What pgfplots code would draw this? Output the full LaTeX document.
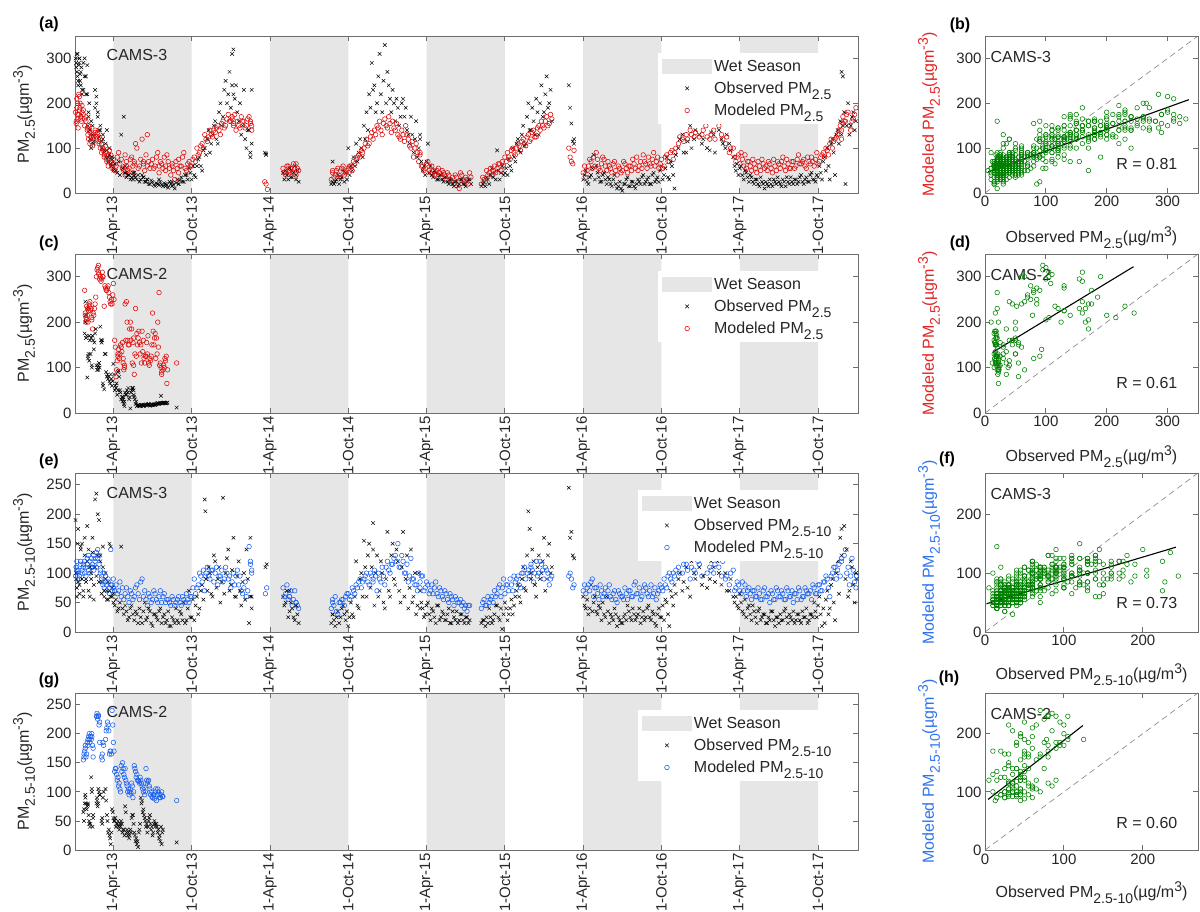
\documentclass[border=0pt]{standalone}
\usepackage{pgfplots}
\pgfplotsset{compat=1.18}
\usepackage{pgfplotstable}
\usepackage{fontspec}
\setmainfont{Liberation Sans}

\definecolor{wet}{RGB}{230,230,230}
\definecolor{axgray}{RGB}{110,110,110}
\definecolor{txt}{RGB}{38,38,38}
\definecolor{mred}{RGB}{222,10,10}
\definecolor{mblue}{RGB}{25,95,240}
\definecolor{mgreen}{RGB}{0,128,0}
\definecolor{lblred}{RGB}{228,35,35}
\definecolor{lblblue}{RGB}{45,115,240}

% ---- PM2.5, CAMS-3 : t (months since 1 Jan 2013), observed, modeled; o2/m2 = day after (t+0.1)
\pgfplotstableread{
t obs mod o2 m2
0.05 320 170 290 155
0.1 300 180 270 190
0.15 280 160 310 175
0.2 310 210 250 165
0.25 260 200 285 220
0.3 240 145 300 185
0.35 290 175 265 200
0.4 300 215 240 170
0.45 250 190 280 160
0.5 270 165 230 180
0.6 220 195 290 175
0.7 230 185 260 165
0.8 300 150 220 170
0.9 260 160 285 145
1.0 220 140 170 150
1.05 150 130 200 140
1.1 180 120 140 135
1.2 120 110 160 125
1.3 100 115 150 130
1.4 130 105 115 120
1.5 110 125 190 135
1.6 230 140 215 125
1.7 200 120 180 135
1.8 170 130 140 115
1.9 125 110 150 120
2.0 140 100 115 110
2.1 100 90 130 100
2.2 120 95 95 85
2.3 90 80 110 90
2.4 80 105 95 75
2.5 140 70 80 85
2.6 70 60 100 95
2.7 85 75 65 70
2.8 60 85 80 60
2.9 75 55 50 75
3.0 55 65 65 50
3.2 50 60 45 80
3.4 70 90 40 65
3.6 130 75 55 55
3.8 170 50 45 85
3.9 60 40 35 60
4.0 45 70 40 50
4.2 40 55 30 75
4.4 35 80 45 60
4.5 30 45 38 70
4.6 45 65 35 110
4.8 30 100 40 55
5.0 25 60 30 75
5.2 40 120 35 65
5.3 35 70 25 50
5.5 25 85 30 60
5.6 30 130 20 70
5.8 20 55 28 65
6.0 25 75 18 55
6.2 15 60 22 80
6.4 20 90 18 60
6.5 30 45 25 70
6.7 18 65 15 55
6.9 22 80 20 60
7.0 15 50 18 85
7.2 12 70 25 55
7.4 20 40 15 65
7.5 25 60 18 50
7.7 10 30 22 70
7.9 30 55 20 45
8.0 20 75 28 60
8.2 35 60 25 80
8.4 25 90 40 55
8.6 40 50 30 65
8.8 55 70 45 60
9.0 30 60 60 75
9.2 40 80 35 70
9.4 60 100 75 85
9.6 80 90 60 105
9.8 50 110 95 100
10.0 100 130 85 120
10.2 120 115 140 125
10.4 90 140 110 130
10.6 130 125 150 140
10.8 160 135 120 145
11.0 110 150 180 140
11.2 200 130 150 155
11.4 170 160 230 145
11.6 250 150 200 165
11.8 220 175 270 160
12.0 190 160 240 170
12.1 310 165 220 150
12.2 320 155 210 175
12.4 240 140 180 160
12.6 160 150 200 145
12.8 130 170 150 160
13.0 230 160 120 145
13.2 100 150 140 165
13.4 140 170 90 160
13.5 80 155 110 140
13.6 230 150 nan nan
14.6 90 25 88 nan
14.7 85 20 nan nan
14.8 nan 8 nan nan
16.0 45 55 30 45
16.2 50 40 40 60
16.4 30 60 55 45
16.5 55 50 35 55
16.7 35 45 45 65
16.9 60 55 30 40
17.0 40 65 50 55
17.2 25 50 nan nan
19.7 20 30 25 45
19.8 70 50 20 35
20.0 25 40 30 50
20.2 40 55 20 40
20.4 30 35 35 55
20.6 50 60 25 40
20.8 45 45 30 50
21.0 100 55 40 60
21.2 60 60 50 50
21.4 80 70 60 65
21.6 110 75 70 80
21.8 90 85 120 80
22.0 100 95 80 90
22.2 150 100 120 110
22.4 180 120 140 105
22.6 220 110 190 125
22.8 290 135 230 120
23.0 240 140 180 130
23.2 200 150 260 145
23.4 310 160 220 140
23.6 180 130 250 155
23.8 330 165 200 150
24.0 270 145 240 170
24.2 210 155 180 135
24.4 230 160 200 145
24.6 160 140 210 155
24.8 190 130 150 125
25.0 170 120 200 140
25.2 210 130 170 115
25.4 190 150 140 130
25.6 130 120 110 105
25.8 170 100 130 115
26.0 90 80 120 100
26.2 160 110 80 90
26.4 100 70 130 85
26.5 120 90 70 60
26.7 50 60 60 50
26.9 40 55 70 65
27.1 110 70 45 50
27.3 60 45 40 60
27.5 35 50 50 40
27.7 45 40 30 50
27.9 30 55 40 45
28.1 40 35 30 50
28.3 25 45 35 40
28.5 35 30 25 45
28.7 20 40 30 30
28.9 30 25 20 35
29.1 15 20 25 40
29.3 25 35 15 25
29.5 20 10 30 45
29.7 30 40 20 30
29.9 20 25 15 35
30.1 25 30 30 20
30.3 30 45 20 35
31.2 15 20 20 35
31.4 25 30 15 25
31.6 35 50 30 40
31.8 20 45 40 55
32.0 55 40 35 50
32.2 45 60 30 45
32.4 95 55 50 65
32.6 30 65 45 50
32.8 60 70 40 60
33.0 45 80 55 70
33.2 40 90 75 80
33.4 60 75 50 95
33.6 100 100 80 90
33.8 70 85 110 100
34.0 120 110 95 105
34.2 90 95 130 115
34.4 150 120 105 110
34.6 110 105 170 125
34.8 200 130 140 115
35.0 140 120 190 135
35.2 160 140 130 125
35.4 210 125 180 145
35.6 130 150 200 140
35.8 240 160 170 150
36.0 180 145 220 160
36.2 260 170 190 150
36.4 200 155 230 175
36.6 160 165 nan nan
37.9 240 100 nan nan
38.0 190 80 nan nan
38.1 155 70 nan nan
38.2 115 65 110 nan
38.3 120 95 nan nan
39.0 30 45 40 60
39.2 50 35 25 50
39.4 20 60 35 75
39.6 40 70 55 55
39.8 85 80 30 60
40.0 60 90 45 75
40.2 35 55 25 50
40.4 25 65 40 80
40.6 45 75 30 60
40.8 20 50 35 70
41.0 30 60 20 55
41.2 15 45 30 65
41.4 40 70 20 50
41.6 10 40 15 60
41.8 25 55 10 45
42.0 5 50 20 70
42.2 20 65 30 55
42.4 35 45 15 60
42.6 15 60 25 50
42.8 25 75 15 65
43.0 10 55 20 80
43.2 30 50 25 60
43.4 20 70 35 55
43.6 40 85 20 70
43.8 25 65 30 55
44.0 35 80 20 65
44.2 20 60 40 75
44.4 45 90 25 60
44.6 30 70 35 80
44.8 25 55 50 65
45.0 60 75 30 55
45.2 40 60 55 80
45.4 80 85 35 70
45.6 30 70 70 90
45.8 60 95 40 75
46.0 10 90 85 100
46.3 100 110 120 125
46.6 130 120 90 115
46.9 90 130 115 120
47.2 150 140 100 130
47.5 120 125 140 135
47.8 180 160 130 125
48.1 110 130 120 140
48.4 160 150 100 125
48.7 95 120 135 130
49.0 130 140 90 120
49.3 200 170 140 150
49.6 120 130 110 120
49.9 100 110 130 125
50.2 110 90 95 100
50.5 80 100 60 80
50.7 50 70 65 80
50.9 40 85 55 65
51.1 60 90 40 75
51.3 30 60 50 85
51.5 45 55 35 70
51.7 25 70 40 60
51.9 35 50 25 75
52.1 20 65 30 55
52.3 30 45 20 70
52.5 15 60 35 50
52.7 25 75 20 65
52.9 10 55 25 60
53.1 20 50 15 70
53.3 30 65 20 55
53.5 15 45 30 75
53.7 25 60 20 50
53.9 35 70 25 65
54.1 20 55 15 70
54.3 30 80 25 60
54.5 15 50 35 75
54.7 25 65 20 55
54.9 35 55 25 70
55.1 20 70 30 55
55.3 30 60 20 75
55.5 25 85 35 65
55.7 40 65 25 70
55.9 20 75 30 60
56.1 35 55 25 80
56.3 25 70 40 65
56.5 45 80 30 70
56.7 30 60 25 75
56.9 40 90 35 65
57.1 60 70 45 80
57.3 30 85 70 90
57.5 80 80 50 100
57.7 100 95 60 85
57.9 30 110 110 120
58.1 120 100 90 115
58.3 40 120 130 125
58.5 140 130 110 140
58.7 160 150 130 120
58.8 270 140 150 155
58.9 260 170 180 160
59.1 20 160 150 175
59.3 200 180 130 150
59.5 150 140 170 160
59.7 180 165 140 175
59.9 160 190 nan nan
}\tA

% ---- PM2.5, CAMS-2 (o2/m2 at t+0.05)
\pgfplotstableread{
t obs mod o2 m2
0.8 175 270 200 215
0.85 245 220 165 200
0.9 215 210 230 235
0.95 170 205 nan nan
1.0 78 215 120 230
1.05 125 200 nan nan
1.1 130 225 170 240
1.15 115 235 nan nan
1.2 160 245 130 225
1.3 165 230 100 205
1.35 105 210 nan nan
1.4 170 185 160 220
1.5 140 215 155 230
1.6 175 240 185 255
1.7 105 300 95 315
1.8 100 320 105 310
1.85 95 325 nan nan
1.9 110 305 100 295
2.0 190 300 160 290
2.1 155 295 nan nan
2.15 160 310 65 300
2.2 60 300 nan nan
2.3 52 235 130 280
2.4 130 275 90 270
2.5 80 270 85 275
2.6 75 280 80 265
2.7 70 255 65 245
2.8 85 240 75 250
2.9 60 240 70 260
3.0 108 285 85 250
3.1 50 160 60 145
3.2 55 80 65 95
3.3 40 115 50 130
3.35 90 125 nan nan
3.4 93 140 80 120
3.5 50 130 45 150
3.6 30 145 35 135
3.7 25 155 30 120
3.75 35 110 nan nan
3.8 20 95 25 105
3.85 15 100 nan nan
3.9 45 240 40 160
4.0 40 245 50 200
4.1 45 160 55 150
4.2 30 150 35 185
4.3 10 200 45 160
4.4 50 185 55 110
4.5 55 155 50 165
4.55 40 105 nan nan
4.6 35 85 30 130
4.7 20 230 25 125
4.8 15 175 17 150
4.9 18 165 16 180
5.0 16 155 15 130
5.1 17 150 18 110
5.2 18 180 17 135
5.3 15 160 16 120
5.4 17 110 18 125
5.5 19 125 17 155
5.6 18 130 19 170
5.7 20 110 18 105
5.8 16 120 17 115
5.9 18 125 19 150
6.0 17 220 18 180
6.1 19 150 18 165
6.2 18 175 19 120
6.3 20 165 nan nan
6.35 21 130 nan nan
6.4 22 200 20 145
6.5 20 265 21 105
6.6 22 110 nan nan
6.65 38 100 22 90
6.7 21 85 nan nan
6.8 22 95 23 105
6.9 23 100 22 120
7.0 22 115 nan nan
7.05 21 125 nan nan
7.1 22 65 23 95
7.85 12 110 nan nan
}\tC

% ---- PM2.5-10, CAMS-3 (o2/m2 at t+0.1)
\pgfplotstableread{
t obs mod o2 m2
0.05 170 100 100 110
0.1 190 95 75 105
0.15 90 110 150 90
0.2 60 120 85 100
0.3 175 105 65 95
0.4 80 90 145 120
0.5 140 115 90 105
0.6 150 100 60 115
0.7 70 110 130 100
0.8 160 120 85 110
0.9 90 95 120 125
1.0 180 115 70 105
1.1 140 130 110 120
1.2 60 100 90 110
1.3 100 125 135 115
1.4 160 110 80 130
1.5 55 105 110 125
1.6 225 120 95 110
1.7 235 135 130 125
1.8 200 140 85 130
1.9 190 115 120 105
2.0 130 100 65 95
2.1 85 90 110 85
2.2 145 80 70 100
2.3 60 75 90 85
2.4 100 95 55 80
2.5 70 70 85 90
2.6 55 85 70 75
2.7 150 65 60 80
2.8 145 140 75 70
2.9 60 80 50 75
3.0 65 90 45 70
3.2 55 80 35 65
3.4 40 70 50 85
3.6 145 60 40 75
3.8 30 55 45 65
4.0 35 75 20 60
4.2 25 50 40 70
4.4 45 65 30 55
4.6 20 60 35 75
4.8 30 80 15 65
5.0 40 55 25 85
5.2 15 90 35 60
5.4 50 70 20 55
5.6 25 45 40 65
5.8 35 60 15 50
6.0 10 55 30 70
6.2 30 65 25 55
6.4 20 50 35 60
6.6 40 70 15 50
6.8 25 60 30 65
7.0 15 50 20 55
7.2 35 55 10 50
7.4 10 45 25 60
7.6 20 55 15 45
7.8 40 50 20 55
8.0 15 60 35 50
8.2 30 45 20 60
8.4 50 55 15 50
8.6 20 65 40 55
8.8 70 50 25 60
9.0 25 60 55 75
9.2 20 90 45 65
9.4 60 75 30 80
9.6 40 100 70 95
9.8 80 85 55 105
10.0 225 70 90 100
10.05 205 95 nan nan
10.2 70 110 110 95
10.4 100 90 65 105
10.6 60 105 130 85
10.8 120 100 75 110
11.0 90 80 110 95
11.2 50 95 85 105
11.4 228 85 65 90
11.6 100 110 125 100
11.8 140 90 70 95
12.0 80 75 105 85
12.2 160 100 60 80
12.4 60 95 95 105
12.6 120 80 70 95
12.8 45 70 85 65
13.0 100 75 55 85
13.2 140 60 90 70
13.4 15 145 60 120
13.5 160 115 40 105
13.6 60 100 nan nan
14.65 110 65 nan nan
14.75 115 75 nan nan
16.0 60 75 45 60
16.2 50 65 70 80
16.4 25 55 35 60
16.5 70 60 50 70
16.7 40 45 25 55
16.9 20 70 45 50
17.0 45 50 30 45
17.2 15 40 nan nan
19.7 15 40 30 50
19.8 30 55 20 45
20.0 10 60 25 35
20.2 35 30 15 50
20.4 25 50 40 55
20.6 45 55 30 45
20.8 20 60 35 65
21.0 10 65 25 55
21.2 50 60 30 75
21.4 25 70 60 65
21.6 120 80 45 75
21.8 40 85 90 90
22.0 100 75 60 85
22.2 155 90 110 95
22.4 60 100 130 85
22.6 150 80 75 100
22.8 110 95 140 90
22.9 185 85 nan nan
23.0 45 105 100 95
23.2 130 70 60 100
23.4 70 90 120 85
23.6 100 110 50 95
23.8 40 80 90 110
24.0 170 120 70 105
24.2 60 100 130 115
24.4 150 115 90 125
24.6 80 130 140 120
24.8 120 150 70 110
25.0 50 110 110 130
25.2 170 120 60 100
25.4 90 100 130 115
25.6 40 85 75 95
25.8 140 125 50 90
26.0 60 90 100 80
26.2 30 80 45 70
26.4 100 100 40 85
26.5 70 75 50 95
26.7 40 95 25 70
26.9 30 75 45 85
27.1 50 80 30 65
27.3 20 70 40 80
27.5 35 65 25 75
27.7 15 85 45 65
27.9 45 60 20 75
28.1 25 70 35 60
28.3 30 55 20 70
28.5 20 65 30 55
28.7 40 50 15 65
28.9 15 60 35 55
29.1 25 45 20 60
29.3 35 55 15 50
29.5 20 50 30 55
29.7 30 45 20 50
29.9 15 40 25 45
30.1 25 35 15 45
30.3 20 45 nan nan
31.2 15 40 20 50
31.4 20 55 10 45
31.6 25 45 15 60
31.8 40 50 25 55
32.0 15 60 20 50
32.2 30 70 45 60
32.4 45 65 25 75
32.6 20 80 40 60
32.8 5 75 30 90
33.0 50 65 40 80
33.2 20 80 30 70
33.4 40 90 55 80
33.6 30 70 45 95
33.8 60 85 70 90
34.0 80 95 60 80
34.2 50 75 90 100
34.4 110 100 75 110
34.6 70 90 130 100
34.8 205 105 nan nan
34.9 175 95 100 115
35.0 90 110 140 105
35.2 120 85 80 100
35.4 60 120 110 95
35.6 130 100 90 120
35.8 100 115 120 105
36.0 160 90 70 110
36.2 90 105 130 100
36.4 150 80 100 90
36.6 110 95 nan nan
37.9 245 95 nan nan
38.0 160 100 nan nan
38.1 170 90 nan nan
38.2 130 75 nan nan
38.3 125 80 nan nan
39.0 60 70 45 80
39.2 40 65 55 75
39.4 30 80 40 70
39.6 80 85 35 90
39.8 50 60 60 75
40.0 35 75 30 65
40.2 45 55 40 80
40.4 20 70 50 60
40.6 30 65 25 75
40.8 60 60 35 70
41.0 15 80 30 60
41.2 25 55 20 65
41.4 40 70 30 55
41.6 10 50 25 70
41.8 20 65 15 60
42.0 15 60 25 55
42.2 30 75 20 65
42.4 45 55 35 70
42.6 25 70 20 60
42.8 40 60 30 80
43.0 20 85 25 65
43.2 30 65 40 75
43.4 15 55 25 60
43.6 35 70 20 80
43.8 25 75 40 65
44.0 45 60 25 70
44.2 20 80 35 60
44.4 30 65 15 75
44.6 10 55 30 65
44.8 40 70 25 80
45.0 25 75 45 70
45.2 20 90 55 80
45.4 50 75 30 95
45.6 10 100 70 90
45.8 60 85 45 100
46.0 80 95 65 105
46.3 90 110 100 100
46.6 70 100 85 115
46.9 110 115 75 105
47.2 60 90 120 110
47.5 100 105 90 100
47.8 130 120 110 115
48.1 80 95 95 125
48.4 140 130 75 100
48.7 90 110 120 105
49.0 110 100 85 115
49.3 120 125 100 110
49.6 80 95 130 120
49.9 100 90 70 95
50.2 70 80 90 100
50.5 60 105 50 70
50.7 60 75 45 85
50.9 40 80 65 70
51.1 50 65 35 85
51.3 30 70 55 80
51.5 25 60 40 70
51.7 45 75 30 65
51.9 20 55 45 70
52.1 35 70 25 60
52.3 15 60 35 75
52.5 40 65 20 55
52.7 25 55 30 70
52.9 30 75 15 60
53.1 15 60 25 65
53.3 20 50 35 70
53.5 35 65 20 55
53.7 10 55 25 75
53.9 25 70 15 60
54.1 30 60 20 70
54.3 20 65 35 55
54.5 40 55 25 75
54.7 15 70 30 60
54.9 25 60 20 70
55.1 35 50 15 65
55.3 20 65 30 55
55.5 30 75 20 70
55.7 15 55 35 60
55.9 25 60 25 75
56.1 40 70 15 65
56.3 20 65 30 70
56.5 30 55 25 80
56.7 50 75 35 65
56.9 25 65 45 80
57.1 60 80 30 70
57.3 10 70 40 85
57.5 15 85 55 95
57.7 70 90 30 75
57.9 40 60 80 95
58.1 90 100 50 110
58.3 20 110 100 90
58.5 120 105 65 115
58.7 160 95 130 125
58.8 175 120 nan nan
59.0 180 130 90 140
59.2 140 100 60 110
59.4 70 80 120 95
59.6 110 125 80 105
59.8 50 85 100 75
59.95 90 95 nan nan
}\tE

% ---- PM2.5-10, CAMS-2 (o2/m2 at t+0.05)
\pgfplotstableread{
t obs mod o2 m2
0.7 65 155 70 160
0.75 50 165 nan nan
0.8 80 170 90 175
0.85 95 180 nan nan
0.9 80 160 70 165
1.0 75 185 80 180
1.05 78 190 nan nan
1.1 60 195 50 190
1.15 45 200 nan nan
1.2 40 185 45 195
1.3 125 190 100 200
1.35 105 195 nan nan
1.4 40 180 60 175
1.45 55 160 nan nan
1.7 80 230 90 230
1.75 85 235 nan nan
1.8 75 225 80 232
1.85 105 230 nan nan
1.9 100 215 95 220
1.95 95 185 nan nan
2.1 50 160 55 165
2.15 45 155 nan nan
2.2 90 185 100 180
2.4 105 190 85 205
2.5 60 210 50 220
2.6 30 215 35 205
2.7 25 165 20 170
2.8 10 170 30 165
2.9 70 240 65 215
3.0 55 185 50 170
3.1 50 135 55 140
3.2 40 140 45 130
3.3 45 120 50 125
3.4 40 110 35 115
3.5 45 105 40 100
3.6 50 145 45 135
3.7 30 150 35 140
3.8 35 130 25 125
3.9 75 140 65 120
4.0 30 115 35 110
4.1 25 100 30 105
4.2 20 95 25 100
4.3 35 105 30 98
4.4 55 115 60 110
4.5 60 90 45 100
4.6 30 145 25 140
4.7 15 135 20 125
4.8 10 130 15 120
4.9 5 120 30 118
5.0 35 115 45 125
5.1 90 120 80 115
5.2 85 110 65 105
5.3 70 100 60 108
5.4 55 95 50 100
5.5 40 140 45 120
5.6 30 115 40 118
5.7 50 120 55 110
5.8 60 105 45 95
5.9 35 100 40 92
6.0 25 90 30 95
6.1 45 95 50 88
6.2 40 100 45 105
6.3 45 85 40 95
6.4 30 105 35 100
6.5 20 95 25 90
6.6 15 90 40 95
6.7 10 100 30 92
6.8 35 92 nan nan
7.85 13 85 nan nan
}\tG

\newcommand\lbl{\fontsize{16}{18}\selectfont}
\newcommand\sub[1]{\raisebox{-6pt}{\fontsize{14}{15}\selectfont #1}}
\newcommand\sups[1]{\raisebox{6pt}{\fontsize{14}{15}\selectfont #1}}
\newcommand\wetbands[1]{%
  \addplot[fill=wet, draw=none,
    legend image code/.code={\fill[wet] (0pt,-7.5pt) rectangle (50pt,7.5pt);}]
    coordinates {(3,0)(3,#1)(9,#1)(9,0)} \closedcycle;
  \addplot[fill=wet, draw=none, forget plot] coordinates {(15,0)(15,#1)(21,#1)(21,0)} \closedcycle;
  \addplot[fill=wet, draw=none, forget plot] coordinates {(27,0)(27,#1)(33,#1)(33,0)} \closedcycle;
  \addplot[fill=wet, draw=none, forget plot] coordinates {(39,0)(39,#1)(45,#1)(45,0)} \closedcycle;
  \addplot[fill=wet, draw=none, forget plot] coordinates {(51,0)(51,#1)(57,#1)(57,0)} \closedcycle;
}

\pgfplotsset{
  base/.style={scale only axis, anchor=south west,
    axis line style={axgray, line width=0.8pt},
    tick style={axgray, line width=0.8pt},
    major tick length=5pt,
    tick align=inside,
    ticklabel style={font=\fontsize{15}{17}\selectfont, text=txt},
    /pgf/number format/assume math mode=true,
    label style={font=\lbl, text=txt},
    axis on top,
  },
  mk/.style={legend image code/.code={\draw[mark repeat=2,mark phase=2,##1] plot coordinates {(0pt,0pt)(25pt,0pt)(50pt,0pt)};}},
  obsx/.style={only marks, mark=x, mark size=2.5pt, black, mark options={line width=0.5pt}, mk},
  modr/.style={only marks, mark=o, mark size=2.3pt, mred, mark options={line width=0.55pt}, mk},
  modb/.style={only marks, mark=o, mark size=2.3pt, mblue, mark options={line width=0.55pt}, mk},
  grn/.style={only marks, mark=o, mark size=2.3pt, mgreen, mark options={line width=0.55pt}},
  ts/.style={base, width=783pt, xmin=0.06, xmax=60.06, xtick={3,9,...,57},
    xticklabels={1-Apr-13,1-Oct-13,1-Apr-14,1-Oct-14,1-Apr-15,1-Oct-15,1-Apr-16,1-Oct-16,1-Apr-17,1-Oct-17},
    xticklabel style={rotate=90, anchor=east},
    ylabel style={at={(axis description cs:-0.065,0.5)}, anchor=center},
    legend cell align=left,
    legend style={anchor=north east, draw=none, fill=white, font=\lbl, text=txt,
      inner xsep=4pt, inner ysep=5pt, row sep=5pt},
  },
  sc/.style={base, width=213pt, xmin=0, ymin=0,
    ylabel style={at={(axis description cs:-0.263,0.5)}, anchor=center},
  },
}

\begin{document}
\begin{tikzpicture}

% ================= (a)
\begin{axis}[ts, at={(75pt,719pt)}, height=157pt, ymin=0, ymax=350, ytick={0,100,200,300},
  ylabel={PM\sub{2.5}(µgm\sups{-3})},
  legend style={at={(0.974,0.892)}}]
\wetbands{350}
\addplot[obsx] table[x=t,y=obs]{\tA};
\addplot[modr] table[x=t,y=mod]{\tA};
\addplot[obsx, forget plot] table[x expr={\thisrow{t}+0.1},y=o2]{\tA};
\addplot[modr, forget plot] table[x expr={\thisrow{t}+0.1},y=m2]{\tA};
\legend{Wet Season, Observed PM\sub{2.5}, Modeled PM\sub{2.5}}
\node[anchor=west, font=\lbl, text=txt] at (rel axis cs:0.036,0.879) {CAMS-3};
\end{axis}

% ================= (c)
\begin{axis}[ts, at={(75pt,499pt)}, height=159pt, ymin=0, ymax=350, ytick={0,100,200,300},
  ylabel={PM\sub{2.5}(µgm\sups{-3})},
  legend style={at={(0.974,0.893)}}]
\wetbands{350}
\addplot[obsx] table[x=t,y=obs]{\tC};
\addplot[modr] table[x=t,y=mod]{\tC};
\addplot[obsx, forget plot] table[x expr={\thisrow{t}+0.05},y=o2]{\tC};
\addplot[modr, forget plot] table[x expr={\thisrow{t}+0.05},y=m2]{\tC};
\legend{Wet Season, Observed PM\sub{2.5}, Modeled PM\sub{2.5}}
\node[anchor=west, font=\lbl, text=txt] at (rel axis cs:0.036,0.877) {CAMS-2};
\end{axis}

% ================= (e)
\begin{axis}[ts, at={(75pt,280pt)}, height=159pt, ymin=0, ymax=270, ytick={0,50,...,250},
  ylabel={PM\sub{2.5-10}(µgm\sups{-3})},
  legend style={at={(0.974,0.893)}}]
\wetbands{270}
\addplot[obsx] table[x=t,y=obs]{\tE};
\addplot[modb] table[x=t,y=mod]{\tE};
\addplot[obsx, forget plot] table[x expr={\thisrow{t}+0.1},y=o2]{\tE};
\addplot[modb, forget plot] table[x expr={\thisrow{t}+0.1},y=m2]{\tE};
\legend{Wet Season, Observed PM\sub{2.5-10}, Modeled PM\sub{2.5-10}}
\node[anchor=west, font=\lbl, text=txt] at (rel axis cs:0.036,0.877) {CAMS-3};
\end{axis}

% ================= (g)
\begin{axis}[ts, at={(75pt,62pt)}, height=157pt, ymin=0, ymax=270, ytick={0,50,...,250},
  ylabel={PM\sub{2.5-10}(µgm\sups{-3})},
  legend style={at={(0.974,0.892)}}]
\wetbands{270}
\addplot[obsx] table[x=t,y=obs]{\tG};
\addplot[modb] table[x=t,y=mod]{\tG};
\addplot[obsx, forget plot] table[x expr={\thisrow{t}+0.05},y=o2]{\tG};
\addplot[modb, forget plot] table[x expr={\thisrow{t}+0.05},y=m2]{\tG};
\legend{Wet Season, Observed PM\sub{2.5-10}, Modeled PM\sub{2.5-10}}
\node[anchor=west, font=\lbl, text=txt] at (rel axis cs:0.036,0.879) {CAMS-2};
\end{axis}

% ================= (b)
\begin{axis}[sc, at={(985pt,719pt)}, height=157pt, xmax=350, ymax=350,
  xtick={0,100,200,300}, ytick={0,100,200,300},
  xlabel={Observed PM\sub{2.5}(µg/m\sups{3})},
  xlabel style={at={(axis description cs:0.5,-0.285)}, anchor=center},
  ylabel={Modeled PM\sub{2.5}(µgm\sups{-3})}, ylabel style={text=lblred}]
\addplot[grn] table[x=obs,y=mod]{\tA};
\addplot[grn] table[x=o2,y=m2]{\tA};
\addplot[gray, line width=0.6pt, dash pattern=on 6pt off 4pt] coordinates {(0,0)(350,350)};
\addplot[black, line width=1.1pt] coordinates {(5,47)(335,208)};
\node[anchor=west, font=\lbl, text=txt] at (rel axis cs:0.01,0.866) {CAMS-3};
\node[font=\lbl, text=txt] at (rel axis cs:0.76,0.185) {R = 0.81};
\end{axis}

% ================= (d)
\begin{axis}[sc, at={(985pt,499pt)}, height=159pt, xmax=350, ymax=350,
  xtick={0,100,200,300}, ytick={0,100,200,300},
  xlabel={Observed PM\sub{2.5}(µg/m\sups{3})},
  xlabel style={at={(axis description cs:0.5,-0.275)}, anchor=center},
  ylabel={Modeled PM\sub{2.5}(µgm\sups{-3})}, ylabel style={text=lblred}]
\addplot[grn] table[x=obs,y=mod]{\tC};
\addplot[grn] table[x=o2,y=m2]{\tC};
\addplot[gray, line width=0.6pt, dash pattern=on 6pt off 4pt] coordinates {(0,0)(350,350)};
\addplot[black, line width=1.1pt] coordinates {(13,134)(244,322)};
\node[anchor=west, font=\lbl, text=txt] at (rel axis cs:0.01,0.866) {CAMS-2};
\node[font=\lbl, text=txt] at (rel axis cs:0.76,0.19) {R = 0.61};
\end{axis}

% ================= (f)
\begin{axis}[sc, at={(985pt,280pt)}, height=159pt, xmax=270, ymax=270,
  xtick={0,100,200}, ytick={0,100,200},
  xlabel={Observed PM\sub{2.5-10}(µg/m\sups{3})},
  xlabel style={at={(axis description cs:0.5,-0.27)}, anchor=center},
  ylabel={Modeled PM\sub{2.5-10}(µgm\sups{-3})}, ylabel style={text=lblblue}]
\addplot[grn] table[x=obs,y=mod]{\tE};
\addplot[grn] table[x=o2,y=m2]{\tE};
\addplot[gray, line width=0.6pt, dash pattern=on 6pt off 4pt] coordinates {(0,0)(270,270)};
\addplot[black, line width=1.1pt] coordinates {(2,48)(242,144)};
\node[anchor=west, font=\lbl, text=txt] at (rel axis cs:0.01,0.866) {CAMS-3};
\node[font=\lbl, text=txt] at (rel axis cs:0.76,0.18) {R = 0.73};
\end{axis}

% ================= (h)
\begin{axis}[sc, at={(985pt,62pt)}, height=157pt, xmax=270, ymax=270,
  xtick={0,100,200}, ytick={0,100,200},
  xlabel={Observed PM\sub{2.5-10}(µg/m\sups{3})},
  xlabel style={at={(axis description cs:0.5,-0.272)}, anchor=center},
  ylabel={Modeled PM\sub{2.5-10}(µgm\sups{-3})}, ylabel style={text=lblblue}]
\addplot[grn] table[x=obs,y=mod]{\tG};
\addplot[grn] table[x=o2,y=m2]{\tG};
\addplot[gray, line width=0.6pt, dash pattern=on 6pt off 4pt] coordinates {(0,0)(270,270)};
\addplot[black, line width=1.1pt] coordinates {(4,87)(124,214)};
\node[anchor=west, font=\lbl, text=txt] at (rel axis cs:0.01,0.866) {CAMS-2};
\node[font=\lbl, text=txt] at (rel axis cs:0.76,0.17) {R = 0.60};
\end{axis}

% panel letters
\begin{scope}[every node/.style={font=\bfseries\lbl, text=black}]
\node at (49pt,888pt) {(a)};
\node at (960pt,887pt) {(b)};
\node at (49pt,669pt) {(c)};
\node at (960pt,669pt) {(d)};
\node at (49pt,451pt) {(e)};
\node at (947pt,453pt) {(f)};
\node at (49pt,232pt) {(g)};
\node at (949pt,234pt) {(h)};
\end{scope}

\pgfresetboundingbox
\path[use as bounding box] (0pt,0pt) rectangle (1200pt,912pt);
\end{tikzpicture}
\end{document}
